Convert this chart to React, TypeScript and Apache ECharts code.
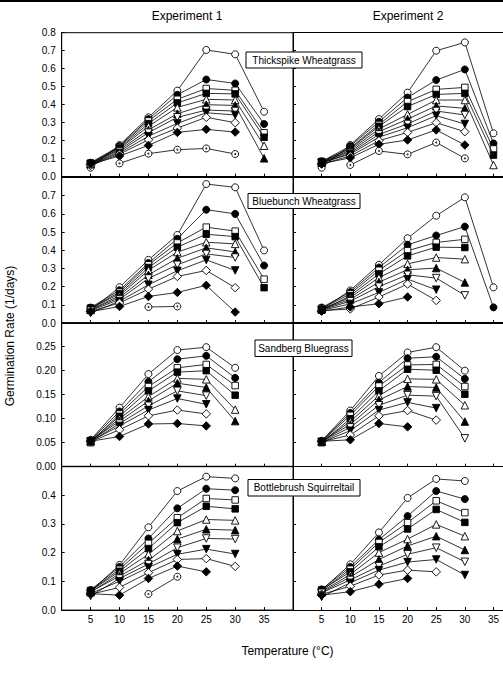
import React, { useEffect, useRef } from "react";
import * as echarts from "echarts";

// Temperatures (°C)
const temps = [5, 10, 15, 20, 25, 30, 35];

// Each panel: 11 treatment series in marker order
// ○, ●, □, ■, △, ▲, ▽, ▼, ◇, ◆, ⊙ ; values at temps (null = no point)
const thickspikeExp1 = [
  [0.05, 0.176, 0.33, 0.478, 0.704, 0.68, 0.361],
  [0.078, 0.17, 0.32, 0.455, 0.54, 0.518, 0.293],
  [0.072, 0.165, 0.31, 0.43, 0.49, 0.48, 0.244],
  [0.076, 0.16, 0.295, 0.41, 0.463, 0.46, 0.219],
  [0.07, 0.155, 0.28, 0.385, 0.43, 0.426, 0.172],
  [0.072, 0.148, 0.26, 0.35, 0.4, 0.396, 0.102],
  [0.066, 0.14, 0.245, 0.33, 0.37, 0.365, null],
  [0.068, 0.132, 0.225, 0.296, 0.355, 0.343, null],
  [0.062, 0.125, 0.205, 0.27, 0.33, 0.3, null],
  [0.07, 0.115, 0.174, 0.246, 0.263, 0.248, null],
  [null, 0.074, 0.128, 0.15, 0.157, 0.126, null],
];
const thickspikeExp2 = [
  [0.05, 0.176, 0.32, 0.467, 0.7, 0.746, 0.241],
  [0.085, 0.17, 0.305, 0.44, 0.537, 0.596, 0.185],
  [0.08, 0.16, 0.29, 0.417, 0.485, 0.496, 0.154],
  [0.085, 0.155, 0.28, 0.39, 0.457, 0.463, 0.12],
  [0.078, 0.148, 0.265, 0.346, 0.426, 0.426, 0.065],
  [0.08, 0.14, 0.25, 0.32, 0.393, 0.38, null],
  [0.075, 0.132, 0.235, 0.293, 0.365, 0.343, null],
  [0.078, 0.125, 0.22, 0.272, 0.339, 0.293, null],
  [0.07, 0.115, 0.2, 0.246, 0.3, 0.25, null],
  [0.072, 0.105, 0.18, 0.204, 0.26, 0.176, null],
  [null, 0.065, 0.143, 0.124, 0.19, 0.102, null],
];
const bluebunchExp1 = [
  [0.07, 0.197, 0.347, 0.484, 0.764, 0.746, 0.399],
  [0.085, 0.18, 0.33, 0.463, 0.623, 0.6, 0.316],
  [0.08, 0.17, 0.32, 0.44, 0.527, 0.505, 0.241],
  [0.082, 0.16, 0.305, 0.417, 0.488, 0.475, 0.194],
  [0.075, 0.15, 0.29, 0.39, 0.444, 0.435, null],
  [0.072, 0.14, 0.265, 0.356, 0.413, 0.391, null],
  [0.068, 0.13, 0.245, 0.32, 0.38, 0.36, null],
  [0.055, 0.12, 0.21, 0.287, 0.347, 0.289, null],
  [0.065, 0.11, 0.186, 0.256, 0.289, 0.194, null],
  [0.062, 0.091, 0.146, 0.168, 0.207, 0.06, null],
  [null, null, 0.088, 0.091, null, null, null],
];
const bluebunchExp2 = [
  [0.075, 0.179, 0.32, 0.466, 0.59, 0.691, 0.196],
  [0.085, 0.17, 0.305, 0.43, 0.481, 0.53, 0.086],
  [0.08, 0.16, 0.29, 0.397, 0.443, 0.46, null],
  [0.07, 0.15, 0.27, 0.369, 0.417, 0.415, null],
  [0.078, 0.14, 0.25, 0.325, 0.36, 0.351, null],
  [0.075, 0.13, 0.225, 0.293, 0.302, 0.223, null],
  [0.072, 0.12, 0.2, 0.265, 0.247, 0.152, null],
  [0.07, 0.105, 0.168, 0.241, 0.183, null, null],
  [0.068, 0.077, 0.143, 0.214, 0.124, null, null],
  [0.065, 0.088, 0.106, 0.143, null, null, null],
  [null, null, null, null, null, null, null],
];
const sandbergExp1 = [
  [0.056, 0.123, 0.193, 0.243, 0.249, 0.206, null],
  [0.055, 0.115, 0.177, 0.224, 0.231, 0.185, null],
  [0.05, 0.11, 0.167, 0.206, 0.213, 0.169, null],
  [0.054, 0.105, 0.158, 0.197, 0.2, 0.149, null],
  [0.053, 0.1, 0.146, 0.184, 0.182, 0.119, null],
  [0.054, 0.095, 0.137, 0.174, 0.165, 0.095, null],
  [0.052, 0.09, 0.127, 0.158, 0.148, null, null],
  [0.053, 0.085, 0.118, 0.142, 0.13, null, null],
  [0.052, 0.077, 0.106, 0.118, 0.11, null, null],
  [0.053, 0.063, 0.089, 0.09, 0.085, null, null],
  [null, null, null, null, null, null, null],
];
const sandbergExp2 = [
  [0.054, 0.117, 0.189, 0.238, 0.249, 0.2, null],
  [0.053, 0.112, 0.175, 0.226, 0.229, 0.183, null],
  [0.052, 0.107, 0.168, 0.212, 0.213, 0.167, null],
  [0.05, 0.1, 0.158, 0.203, 0.201, 0.151, null],
  [0.052, 0.094, 0.148, 0.183, 0.182, 0.128, null],
  [0.053, 0.088, 0.139, 0.167, 0.165, 0.094, null],
  [0.052, 0.082, 0.128, 0.149, 0.147, 0.059, null],
  [0.051, 0.075, 0.118, 0.134, 0.122, null, null],
  [0.052, 0.066, 0.106, 0.117, 0.097, null, null],
  [0.053, 0.056, 0.09, 0.083, null, null, null],
  [null, null, null, null, null, null, null],
];
const bottlebrushExp1 = [
  [0.065, 0.157, 0.288, 0.414, 0.464, 0.458, null],
  [0.07, 0.15, 0.249, 0.354, 0.422, 0.417, null],
  [0.068, 0.142, 0.232, 0.321, 0.388, 0.383, null],
  [0.067, 0.135, 0.214, 0.304, 0.361, 0.352, null],
  [0.062, 0.127, 0.194, 0.275, 0.315, 0.312, null],
  [0.064, 0.118, 0.174, 0.247, 0.281, 0.278, null],
  [0.049, 0.11, 0.16, 0.217, 0.249, 0.247, null],
  [0.058, 0.1, 0.148, 0.194, 0.212, 0.195, null],
  [0.055, 0.079, 0.13, 0.176, 0.179, 0.152, null],
  [0.057, 0.052, 0.11, 0.153, 0.133, null, null],
  [null, null, 0.056, 0.116, null, null, null],
];
const bottlebrushExp2 = [
  [0.07, 0.159, 0.27, 0.39, 0.456, 0.449, null],
  [0.072, 0.15, 0.245, 0.327, 0.414, 0.386, null],
  [0.068, 0.142, 0.235, 0.304, 0.38, 0.339, null],
  [0.07, 0.133, 0.22, 0.282, 0.35, 0.305, null],
  [0.065, 0.124, 0.2, 0.247, 0.298, 0.257, null],
  [0.062, 0.115, 0.176, 0.223, 0.257, 0.209, null],
  [0.06, 0.105, 0.153, 0.194, 0.217, 0.168, null],
  [0.046, 0.095, 0.139, 0.167, 0.176, 0.122, null],
  [0.055, 0.083, 0.122, 0.139, 0.133, null, null],
  [0.052, 0.064, 0.09, 0.11, null, null, null],
  [null, null, null, null, null, null, null],
];

const speciesNames = [
  "Thickspike Wheatgrass",
  "Bluebunch Wheatgrass",
  "Sandberg Bluegrass",
  "Bottlebrush Squirreltail",
];
const experimentNames = ["Experiment 1", "Experiment 2"];
const yMaxByRow = [0.8, 0.8, 0.3, 0.5];
const yIntervalByRow = [0.1, 0.1, 0.05, 0.1];
// visible x-range per column (right column is cut by the page edge)
const xMaxByCol = [40, 36.66];

const panelData = [
  [thickspikeExp1, thickspikeExp2],
  [bluebunchExp1, bluebunchExp2],
  [sandbergExp1, sandbergExp2],
  [bottlebrushExp1, bottlebrushExp2],
];

// Marker styling (order matches series rows)
const markers = [
  { symbol: "circle", filled: false, size: 7 },
  { symbol: "circle", filled: true, size: 7 },
  { symbol: "rect", filled: false, size: 6.5 },
  { symbol: "rect", filled: true, size: 6.5 },
  { symbol: "triangle", filled: false, size: 7.5 },
  { symbol: "triangle", filled: true, size: 7.5 },
  { symbol: "triangle", filled: false, size: 7.5, rotate: 180 },
  { symbol: "triangle", filled: true, size: 7.5, rotate: 180 },
  { symbol: "diamond", filled: false, size: 8.5 },
  { symbol: "diamond", filled: true, size: 8.5 },
  { symbol: "circle", filled: false, size: 7, dot: true },
];

const FONT = "Liberation Sans, Arial, sans-serif";
const rowTops = [32.7, 177.5, 322.7, 466.3];
const rowHeights = [144, 145.5, 144, 143.8];
const colLefts = [61.7, 293];
const colWidths = [231.3, 212];

export default function App() {
  const ref = useRef<HTMLDivElement>(null);
  useEffect(() => {
    if (!ref.current) return;
    const chart = echarts.init(ref.current, undefined, { renderer: "svg" });
    const grids: any[] = [];
    const xAxes: any[] = [];
    const topAxes: any[] = [];
    const yAxes: any[] = [];
    const series: any[] = [];
    let idx = 0;
    for (let r = 0; r < 4; r++) {
      for (let c = 0; c < 2; c++) {
        grids.push({
          left: colLefts[c],
          top: rowTops[r],
          width: colWidths[c],
          height: rowHeights[r],
          show: c === 0,
          borderColor: "#000",
          borderWidth: 1,
          backgroundColor: "transparent",
        });
        xAxes.push({
          type: "value",
          gridIndex: idx,
          min: 0,
          max: xMaxByCol[c],
          interval: 5,
          axisLine: { lineStyle: { color: "#000", width: 1 } },
          axisTick: { inside: true, length: 3, lineStyle: { color: "#000" } },
          splitLine: { show: false },
          axisLabel: {
            show: r === 3,
            color: "#000",
            fontSize: 10,
            fontFamily: FONT,
            margin: 4,
            showMaxLabel: false,
            formatter: (v: number) => (v === 0 || v >= 40 || v % 5 !== 0 ? "" : String(v)),
          },
        });
        if (c === 1) {
          topAxes.push({
            type: "value",
            gridIndex: idx,
            position: "top",
            min: 0,
            max: xMaxByCol[c],
            interval: 5,
            axisLine: { lineStyle: { color: "#000", width: 1 } },
            axisTick: { show: false },
            axisLabel: { show: false },
            splitLine: { show: false },
          });
        }
        const ymax = yMaxByRow[r];
        const dec = r === 2 ? 2 : 1;
        yAxes.push({
          type: "value",
          gridIndex: idx,
          min: 0,
          max: ymax,
          interval: yIntervalByRow[r],
          axisLine: { lineStyle: { color: "#000", width: 1 } },
          axisTick: { inside: true, length: 3, lineStyle: { color: "#000" } },
          splitLine: { show: false },
          axisLabel: {
            show: c === 0,
            color: "#000",
            fontSize: 10,
            fontFamily: FONT,
            margin: 6,
            showMaxLabel: true,
            formatter: (v: number) =>
              r > 0 && Math.abs(v - ymax) < 1e-6 ? "" : v.toFixed(dec),
          },
        });
        const data = panelData[r][c];
        data.forEach((vals, s) => {
          const pts = temps
            .map((t, k) => (vals[k] == null ? null : [t, vals[k]]))
            .filter((p) => p !== null);
          if (!pts.length) return;
          const m = markers[s];
          series.push({
            type: "line",
            xAxisIndex: idx,
            yAxisIndex: idx,
            data: pts,
            symbol: m.symbol,
            symbolSize: m.size,
            symbolRotate: m.rotate || 0,
            showSymbol: true,
            silent: true,
            clip: false,
            lineStyle: { color: "#000", width: 0.8 },
            itemStyle: {
              color: m.filled ? "#000" : "#fff",
              borderColor: "#000",
              borderWidth: 0.9,
            },
            z: 2 + s * 0.01,
          });
          if (m.dot) {
            series.push({
              type: "scatter",
              xAxisIndex: idx,
              yAxisIndex: idx,
              data: pts,
              symbol: "circle",
              symbolSize: 2,
              silent: true,
              itemStyle: { color: "#000" },
              z: 3,
            });
          }
        });
        idx++;
      }
    }

    const legendBoxes = [
      { x: 246, y: 52, w: 116, h: 16 },
      { x: 248, y: 193.5, w: 112, h: 15 },
      { x: 255, y: 340, w: 97, h: 16.5 },
      { x: 248, y: 479.5, w: 112, h: 16.5 },
    ];
    const textStyle = (text: string, size: number) => ({
      text,
      fill: "#000",
      fontSize: size,
      fontFamily: FONT,
      textAlign: "center",
      textVerticalAlign: "middle",
      align: "center",
      verticalAlign: "middle",
    });
    const graphics: any[] = [
      { type: "rect", shape: { x: 0, y: 0, width: 503, height: 2 }, style: { fill: "#000" }, z: 100 },
      { type: "text", x: 187, y: 16, z: 100, style: textStyle(experimentNames[0], 12) },
      { type: "text", x: 408, y: 16, z: 100, style: textStyle(experimentNames[1], 12) },
      {
        type: "text",
        x: 10,
        y: 336,
        rotation: Math.PI / 2,
        z: 100,
        style: textStyle("Germination Rate (1/days)", 12),
      },
      { type: "text", x: 287.5, y: 651, z: 100, style: textStyle("Temperature (°C)", 12) },
    ];
    legendBoxes.forEach((b, i) => {
      graphics.push({
        type: "rect",
        shape: { x: b.x, y: b.y, width: b.w, height: b.h },
        style: { fill: "#fff", stroke: "#000", lineWidth: 1 },
        z: 100,
      });
      graphics.push({
        type: "text",
        x: b.x + b.w / 2,
        y: b.y + b.h / 2,
        z: 101,
        style: textStyle(speciesNames[i], 10),
      });
    });

    chart.setOption({
      animation: false,
      backgroundColor: "#fff",
      grid: grids,
      xAxis: xAxes.concat(topAxes),
      yAxis: yAxes,
      series,
      graphic: graphics,
    });
    return () => chart.dispose();
  }, []);
  return (
    <div
      ref={ref}
      style={{ position: "absolute", left: 0, top: 0, width: 503, height: 677 }}
    />
  );
}
